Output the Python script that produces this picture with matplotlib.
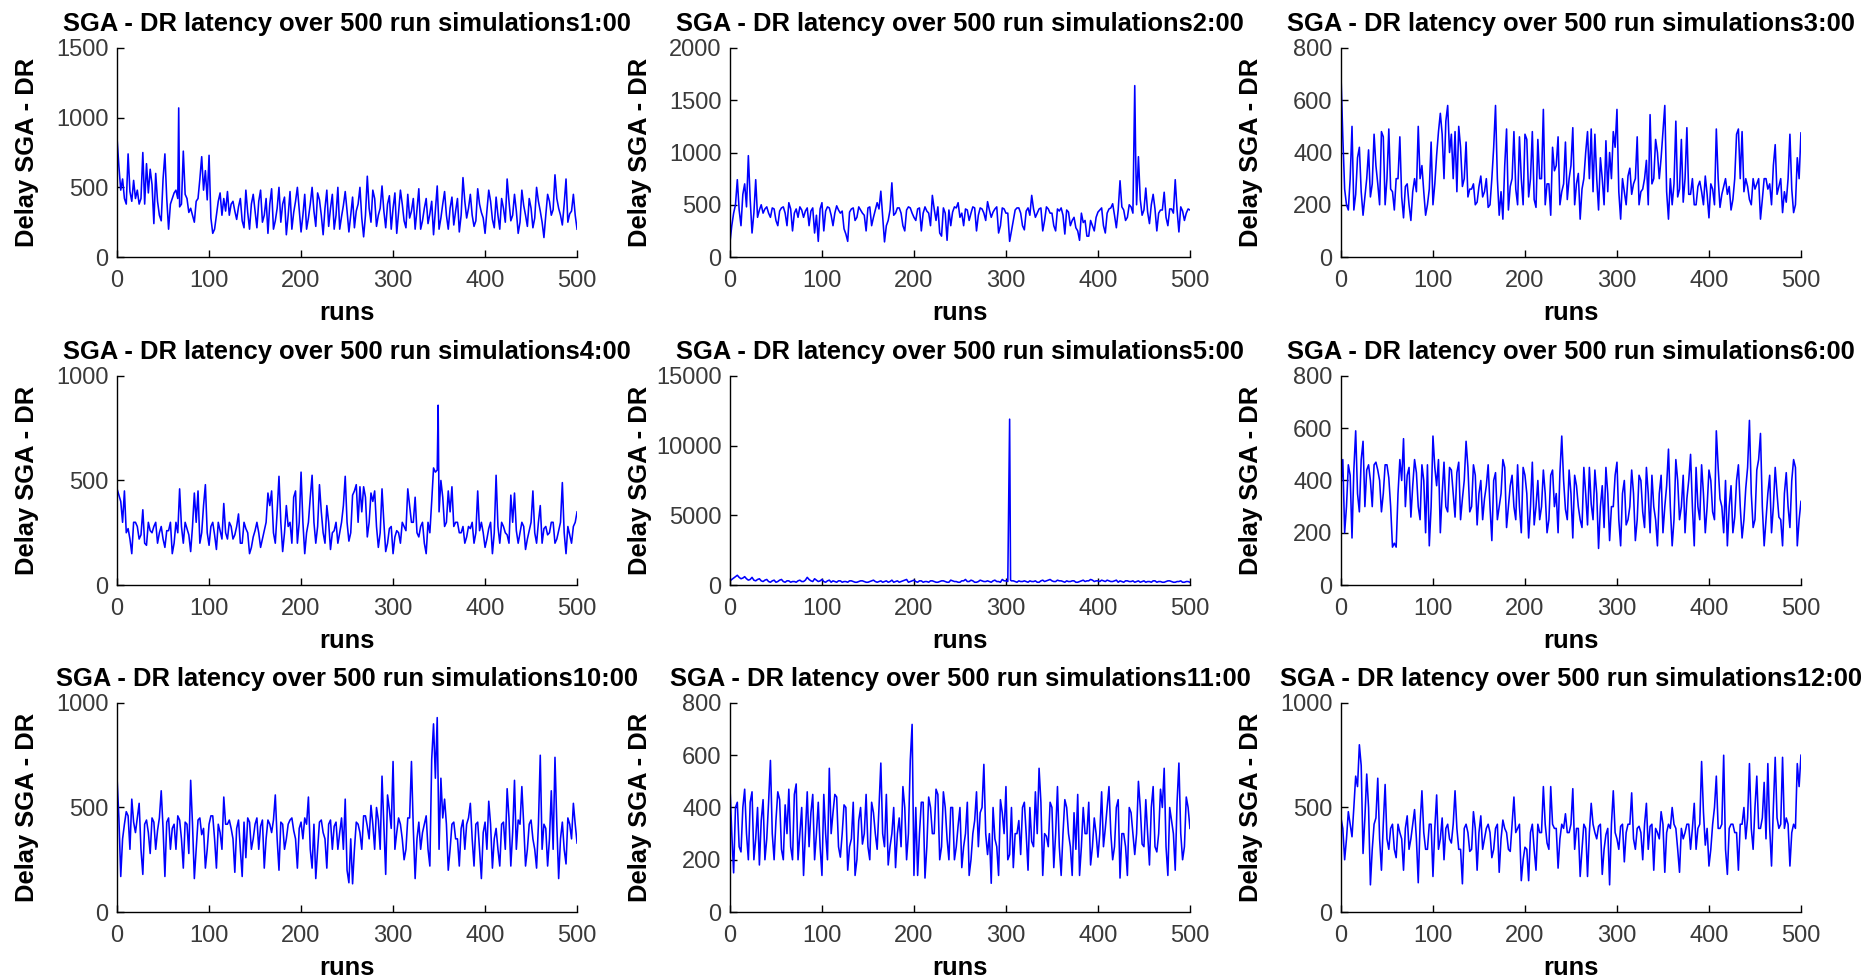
import matplotlib
matplotlib.use('Agg')
import matplotlib.pyplot as plt

plt.rcParams['font.family'] = ['Liberation Sans', 'DejaVu Sans']

# runs at which the values were read: every 4th run, plus the runs in between
runs = list(range(0, 501, 4))
runs_mid = list(range(2, 500, 4))

hours = ['1:00', '2:00', '3:00', '4:00', '5:00', '6:00', '10:00', '11:00', '12:00']
y_max = [1500, 2000, 800, 1000, 15000, 800, 1000, 800, 1000]
y_step = [500, 500, 200, 500, 5000, 200, 500, 200, 500]

delay_1h = [850, 480, 420, 740, 400, 420, 380, 750, 670, 630, 240, 400, 260, 740, 200, 420, 480, 360, 760, 420,
            350, 250, 420, 720, 620, 730, 170, 300, 460, 420, 470, 380, 330, 360, 260, 480, 200, 450, 210, 480,
            300, 170, 490, 260, 500, 380, 160, 470, 320, 500, 180, 450, 280, 500, 220, 410, 160, 480, 350, 200,
            500, 290, 470, 180, 430, 330, 500, 145, 580, 250, 420, 300, 510, 210, 440, 350, 170, 480, 260, 450,
            330, 200, 490, 260, 420, 310, 160, 510, 280, 470, 200, 430, 330, 180, 570, 280, 450, 220, 490, 320,
            170, 480, 270, 430, 200, 350, 560, 260, 450, 170, 480, 300, 420, 210, 500, 330, 140, 450, 300, 590,
            350, 230, 560, 310, 450, 200]
delay_1h_mid = [650, 560, 380, 470, 550, 480, 420, 380, 460, 520,
                600, 300, 560, 420, 380, 460, 420, 380, 450, 320,
                300, 400, 560, 480, 410, 280, 200, 400, 300, 330,
                300, 400, 270, 420, 210, 320, 380, 330, 400, 250,
                420, 380, 200, 350, 250, 430, 300, 200, 400, 340,
                300, 200, 380, 330, 460, 300, 350, 220, 450, 300,
                200, 370, 330, 300, 210, 380, 280, 300, 350, 480,
                220, 350, 330, 380, 200, 460, 320, 380, 210, 280,
                420, 340, 200, 350, 240, 400, 330, 200, 380, 300,
                350, 230, 420, 300, 400, 350, 300, 260, 380, 280,
                330, 400, 210, 300, 420, 250, 400, 300, 330, 250,
                370, 220, 350, 280, 400, 250, 300, 400, 340, 420,
                300, 380, 250, 330, 300]
spikes_1h = {67: 1070}

delay_2h = [140, 420, 740, 300, 700, 970, 230, 740, 450, 420, 480, 380, 460, 300, 470, 420, 520, 250, 460, 480,
            380, 470, 440, 230, 150, 520, 440, 470, 300, 490, 420, 270, 150, 460, 350, 480, 420, 250, 480, 380,
            520, 630, 145, 350, 710, 420, 470, 300, 450, 470, 380, 460, 250, 480, 420, 590, 350, 230, 470, 160,
            300, 480, 520, 420, 460, 350, 480, 250, 470, 420, 530, 380, 460, 230, 470, 420, 150, 350, 470, 420,
            260, 470, 590, 380, 460, 250, 480, 420, 300, 460, 470, 220, 430, 350, 280, 160, 330, 200, 350, 250,
            430, 470, 230, 460, 510, 280, 730, 450, 380, 480, 400, 960, 400, 660, 320, 600, 250, 450, 620, 300,
            460, 740, 240, 440, 420, 450]
delay_2h_mid = [300, 500, 450, 600, 480, 550, 420, 380, 500, 460,
                420, 470, 350, 440, 480, 300, 460, 420, 380, 450,
                440, 300, 470, 400, 460, 250, 480, 400, 420, 450,
                440, 220, 430, 470, 380, 450, 400, 470, 300, 450,
                460, 380, 300, 450, 400, 470, 420, 250, 480, 420,
                350, 470, 420, 440, 300, 460, 480, 200, 420, 450,
                430, 470, 380, 300, 450, 420, 470, 400, 460, 350,
                450, 430, 480, 300, 460, 420, 250, 450, 470, 300,
                440, 400, 460, 420, 470, 350, 460, 420, 250, 440,
                400, 450, 300, 380, 250, 420, 350, 200, 300, 380,
                450, 300, 420, 470, 400, 450, 480, 350, 500, 420,
                500, 550, 450, 430, 500, 460, 420, 450, 380, 460,
                420, 450, 480, 350, 460]
spikes_2h = {440: 1640, 441: 960}

delay_3h = [700, 260, 180, 500, 240, 420, 160, 300, 230, 470, 280, 480, 200, 490, 250, 300, 460, 150, 280, 140,
            300, 500, 350, 160, 260, 200, 390, 550, 300, 580, 470, 480, 500, 270, 440, 260, 280, 210, 310, 250,
            190, 300, 580, 160, 145, 490, 270, 480, 200, 300, 470, 230, 480, 190, 300, 565, 280, 160, 330, 460,
            250, 440, 300, 495, 280, 145, 300, 480, 490, 470, 180, 300, 445, 400, 480, 565, 145, 250, 310, 240,
            300, 200, 260, 370, 545, 300, 400, 380, 580, 145, 200, 520, 260, 210, 495, 240, 200, 270, 250, 310,
            150, 260, 490, 190, 270, 240, 180, 300, 490, 480, 300, 220, 300, 280, 145, 300, 260, 200, 430, 270,
            170, 210, 470, 170, 380, 475]
delay_3h_mid = [460, 200, 300, 180, 380, 250, 230, 410, 280, 350,
                200, 460, 300, 260, 180, 300, 230, 270, 200, 250,
                250, 300, 250, 200, 440, 280, 480, 470, 520, 400,
                300, 250, 420, 300, 230, 260, 200, 270, 230, 300,
                200, 420, 300, 250, 350, 180, 300, 260, 460, 200,
                450, 300, 220, 450, 300, 200, 280, 420, 350, 200,
                280, 220, 350, 200, 320, 260, 400, 300, 250, 300,
                380, 200, 250, 300, 420, 250, 300, 200, 340, 280,
                460, 250, 300, 200, 280, 450, 300, 480, 250, 300,
                280, 230, 450, 300, 240, 300, 200, 290, 200, 240,
                280, 200, 300, 240, 300, 270, 220, 470, 300, 250,
                270, 200, 260, 300, 220, 300, 280, 350, 240, 300,
                250, 300, 260, 200, 300]
spikes_3h = {}

delay_4h = [460, 400, 450, 270, 150, 300, 220, 360, 190, 260, 280, 200, 280, 180, 260, 150, 300, 460, 200, 270,
            160, 440, 450, 250, 480, 190, 300, 170, 260, 390, 220, 280, 240, 340, 200, 270, 150, 230, 300, 180,
            260, 440, 450, 200, 520, 160, 380, 300, 420, 200, 540, 150, 300, 525, 200, 480, 250, 380, 170, 260,
            200, 300, 520, 210, 430, 480, 470, 470, 230, 440, 450, 180, 460, 160, 270, 150, 260, 200, 280, 460,
            300, 420, 230, 300, 150, 250, 560, 550, 500, 280, 450, 470, 300, 250, 280, 230, 270, 200, 450, 300,
            180, 270, 150, 525, 200, 280, 240, 430, 440, 200, 300, 170, 260, 450, 200, 380, 270, 240, 300, 200,
            260, 490, 150, 240, 280, 350]
delay_4h_mid = [430, 300, 250, 220, 300, 280, 240, 200, 300, 250,
                300, 250, 220, 260, 300, 200, 250, 280, 300, 240,
                280, 300, 200, 380, 250, 280, 240, 300, 220, 250,
                300, 220, 280, 200, 300, 250, 180, 260, 250, 220,
                300, 380, 250, 350, 300, 250, 280, 200, 450, 300,
                300, 250, 420, 300, 280, 350, 200, 300, 250, 300,
                250, 380, 300, 250, 450, 300, 350, 420, 300, 400,
                280, 250, 300, 200, 280, 230, 250, 300, 260, 380,
                300, 250, 280, 200, 300, 400, 540, 350, 420, 300,
                350, 280, 300, 250, 200, 280, 300, 250, 260, 250,
                220, 300, 250, 280, 300, 250, 200, 300, 260, 250,
                280, 220, 300, 250, 300, 200, 280, 250, 300, 220,
                300, 250, 280, 200, 300]
spikes_4h = {349: 860}

delay_5h = [300, 500, 700, 450, 600, 350, 550, 300, 450, 250, 400, 200, 350, 250, 400, 200, 300, 250, 200, 350,
            250, 550, 300, 450, 250, 400, 200, 350, 300, 200, 300, 250, 200, 300, 200, 250, 300, 200, 250, 350,
            200, 300, 250, 200, 350, 250, 200, 300, 400, 250, 350, 200, 300, 250, 200, 300, 200, 250, 300, 200,
            350, 250, 200, 300, 400, 250, 300, 200, 350, 250, 300, 200, 350, 250, 400, 300, 350, 300, 200, 250,
            300, 200, 250, 300, 200, 350, 300, 400, 250, 350, 300, 200, 250, 300, 200, 250, 350, 300, 400, 250,
            300, 350, 250, 300, 250, 350, 300, 200, 300, 250, 200, 300, 250, 200, 250, 300, 200, 250, 200, 300,
            250, 200, 250, 200, 250, 200]
delay_5h_mid = [400, 600, 550, 500, 450, 400, 350, 400, 300, 350,
                250, 300, 200, 350, 250, 300, 200, 250, 300, 250,
                350, 400, 250, 350, 300, 250, 300, 200, 250, 300,
                200, 250, 300, 250, 200, 300, 250, 200, 300, 250,
                250, 200, 300, 250, 200, 300, 250, 350, 200, 300,
                250, 300, 200, 250, 300, 250, 200, 300, 250, 200,
                300, 250, 200, 300, 250, 350, 200, 250, 300, 250,
                250, 300, 250, 200, 300, 250, 300, 250, 300, 250,
                250, 300, 250, 200, 300, 250, 350, 300, 250, 300,
                250, 300, 250, 300, 200, 300, 250, 300, 350, 300,
                250, 300, 350, 250, 300, 200, 250, 300, 250, 300,
                250, 200, 300, 250, 200, 300, 250, 200, 250, 300,
                200, 250, 300, 200, 250]
spikes_5h = {303: 6000, 304: 11900, 305: 350}

delay_6h = [380, 200, 460, 180, 590, 280, 550, 440, 400, 460, 440, 280, 460, 410, 145, 145, 480, 560, 420, 260,
            480, 300, 460, 200, 150, 570, 380, 200, 470, 280, 440, 260, 470, 330, 550, 280, 460, 230, 400, 330,
            460, 170, 430, 300, 480, 220, 380, 300, 460, 200, 420, 180, 470, 300, 250, 440, 200, 420, 300, 200,
            570, 290, 440, 180, 380, 250, 450, 230, 310, 440, 140, 380, 450, 170, 300, 470, 150, 400, 250, 440,
            170, 420, 280, 450, 200, 300, 150, 420, 300, 520, 150, 480, 250, 420, 330, 500, 150, 300, 460, 200,
            440, 280, 590, 330, 200, 150, 380, 260, 460, 180, 370, 630, 220, 440, 580, 150, 350, 200, 450, 260,
            150, 430, 220, 480, 150, 320]
delay_6h_mid = [480, 300, 420, 440, 350, 480, 300, 460, 300, 470,
                400, 350, 460, 300, 160, 350, 400, 300, 450, 380,
                430, 250, 400, 460, 300, 450, 480, 350, 300, 450,
                350, 430, 250, 400, 450, 300, 420, 350, 250, 380,
                300, 400, 250, 350, 450, 300, 420, 250, 300, 450,
                350, 300, 230, 400, 300, 350, 250, 440, 350, 430,
                400, 250, 350, 420, 300, 220, 350, 450, 250, 350,
                300, 220, 350, 300, 420, 250, 350, 230, 300, 350,
                250, 400, 220, 350, 420, 250, 350, 200, 380, 300,
                250, 400, 300, 200, 400, 300, 450, 250, 350, 300,
                400, 250, 450, 300, 400, 300, 200, 400, 300, 250,
                450, 350, 250, 480, 300, 250, 420, 300, 350, 250,
                350, 300, 400, 450, 250]
spikes_6h = {}

delay_10h = [640, 170, 420, 460, 540, 380, 520, 180, 440, 280, 430, 390, 580, 170, 450, 400, 300, 440, 210, 420,
             630, 160, 440, 370, 210, 420, 460, 210, 380, 550, 420, 400, 190, 440, 170, 260, 430, 350, 450, 410,
             210, 440, 380, 560, 200, 420, 350, 440, 390, 210, 430, 450, 550, 210, 160, 430, 380, 210, 440, 410,
             300, 450, 540, 140, 135, 430, 380, 460, 410, 510, 300, 440, 650, 180, 490, 720, 380, 420, 250, 450,
             720, 160, 430, 380, 460, 220, 900, 930, 640, 540, 200, 420, 350, 220, 440, 420, 520, 220, 430, 160,
             430, 530, 210, 400, 220, 430, 590, 220, 630, 440, 600, 220, 420, 350, 210, 750, 420, 220, 580, 740,
             160, 430, 230, 420, 520, 330]
delay_10h_mid = [450, 350, 480, 300, 430, 450, 300, 420, 380, 450,
                 300, 450, 400, 430, 300, 420, 460, 350, 430, 280,
                 420, 300, 450, 400, 300, 460, 350, 420, 300, 420,
                 440, 350, 400, 300, 430, 450, 300, 420, 300, 440,
                 350, 420, 440, 350, 430, 300, 420, 450, 350, 400,
                 350, 420, 300, 420, 300, 440, 350, 420, 300, 430,
                 380, 300, 200, 350, 300, 420, 300, 460, 350, 420,
                 500, 300, 420, 560, 400, 300, 450, 350, 300, 450,
                 400, 350, 300, 420, 300, 730, 640, 300, 450, 420,
                 300, 430, 350, 400, 300, 450, 350, 420, 300, 380,
                 300, 420, 350, 300, 420, 300, 450, 380, 300, 420,
                 420, 300, 440, 300, 420, 300, 400, 350, 300, 420,
                 350, 300, 450, 350, 420]
spikes_10h = {}

delay_11h = [480, 150, 420, 230, 470, 200, 460, 280, 180, 430, 280, 580, 200, 460, 240, 410, 470, 200, 490, 300,
             140, 460, 380, 200, 420, 140, 300, 550, 380, 440, 210, 410, 160, 280, 140, 350, 260, 450, 200, 380,
             240, 570, 250, 180, 300, 170, 360, 480, 200, 580, 140, 140, 420, 130, 440, 300, 470, 200, 460, 280,
             400, 200, 330, 170, 300, 140, 300, 460, 380, 565, 220, 110, 280, 140, 380, 480, 220, 170, 300, 220,
             420, 160, 270, 460, 550, 140, 290, 420, 170, 480, 140, 430, 300, 140, 240, 140, 400, 300, 180, 360,
             210, 460, 320, 480, 200, 400, 130, 300, 140, 380, 220, 500, 260, 430, 180, 480, 230, 470, 550, 140,
             350, 160, 570, 200, 440, 320]
delay_11h_mid = [300, 400, 250, 400, 300, 420, 200, 400, 350, 200,
                 420, 300, 350, 430, 200, 300, 250, 450, 200, 400,
                 300, 250, 450, 300, 250, 450, 200, 300, 450, 250,
                 300, 400, 250, 420, 200, 400, 300, 250, 420, 300,
                 400, 300, 450, 250, 400, 300, 250, 400, 300, 580,
                 400, 300, 420, 250, 400, 300, 450, 250, 400, 200,
                 400, 250, 400, 250, 420, 200, 350, 250, 400, 300,
                 300, 400, 250, 430, 300, 200, 400, 300, 350, 400,
                 300, 400, 250, 300, 420, 300, 250, 400, 300, 250,
                 300, 400, 250, 380, 450, 250, 300, 420, 250, 300,
                 300, 250, 400, 300, 250, 430, 300, 250, 400, 300,
                 300, 400, 250, 300, 400, 250, 300, 400, 250, 400,
                 300, 420, 300, 250, 400]
spikes_11h = {198: 718}

delay_12h = [450, 250, 480, 360, 650, 800, 280, 660, 130, 420, 640, 200, 610, 300, 420, 260, 380, 200, 460, 350,
             490, 140, 580, 300, 420, 170, 560, 350, 250, 420, 330, 580, 300, 135, 420, 290, 480, 200, 460, 350,
             420, 260, 400, 190, 440, 380, 290, 550, 400, 150, 310, 150, 420, 200, 380, 600, 330, 600, 400, 210,
             420, 470, 380, 590, 400, 170, 420, 170, 520, 380, 410, 180, 370, 130, 580, 350, 410, 240, 420, 570,
             300, 410, 250, 520, 410, 200, 380, 480, 190, 420, 500, 400, 190, 350, 420, 300, 520, 400, 720, 320,
             220, 420, 650, 400, 750, 180, 420, 380, 200, 420, 350, 710, 300, 650, 400, 620, 710, 220, 740, 400,
             740, 450, 220, 420, 710, 750]
delay_12h_mid = [400, 350, 420, 500, 600, 700, 450, 500, 300, 450,
                 350, 420, 350, 400, 300, 420, 350, 400, 300, 420,
                 350, 420, 380, 300, 420, 400, 300, 450, 400, 350,
                 420, 400, 300, 400, 380, 300, 400, 380, 300, 400,
                 380, 300, 420, 350, 400, 300, 420, 380, 420, 250,
                 300, 380, 300, 420, 380, 420, 300, 420, 400, 350,
                 400, 380, 420, 300, 400, 300, 400, 380, 420, 350,
                 420, 300, 400, 420, 380, 300, 420, 380, 420, 350,
                 400, 380, 420, 300, 420, 400, 350, 420, 380, 400,
                 420, 300, 400, 380, 420, 400, 300, 420, 480, 400,
                 300, 500, 400, 420, 300, 400, 420, 380, 420, 500,
                 450, 400, 500, 400, 450, 350, 400, 500, 450, 420,
                 400, 420, 380, 400, 600]
spikes_12h = {}

panels = [(delay_1h, delay_1h_mid, spikes_1h), (delay_2h, delay_2h_mid, spikes_2h),
          (delay_3h, delay_3h_mid, spikes_3h), (delay_4h, delay_4h_mid, spikes_4h),
          (delay_5h, delay_5h_mid, spikes_5h), (delay_6h, delay_6h_mid, spikes_6h),
          (delay_10h, delay_10h_mid, spikes_10h), (delay_11h, delay_11h_mid, spikes_11h),
          (delay_12h, delay_12h_mid, spikes_12h)]


def merge(base, mid, spikes):
    pts = dict(zip(runs, base))
    pts.update(zip(runs_mid, mid))
    pts.update(spikes)
    xs = sorted(pts)
    return xs, [pts[x] for x in xs]


fig = plt.figure(figsize=(18.76, 9.77), dpi=100)

lefts = [0.0624, 0.3891, 0.7148]
bottoms = [0.7369, 0.4012, 0.0665]
w, h = 0.2452, 0.214

for i, (base, mid, spikes) in enumerate(panels):
    row, col = divmod(i, 3)
    ax = fig.add_axes([lefts[col], bottoms[row], w, h])
    xs, ys = merge(base, mid, spikes)
    ax.plot(xs, ys, color='#0000ff', lw=1.15)
    ax.set_xlim(0, 500)
    ax.set_ylim(0, y_max[i])
    ax.set_xticks(range(0, 501, 100))
    ax.set_yticks(range(0, y_max[i] + 1, y_step[i]))
    for s in ['top', 'right']:
        ax.spines[s].set_visible(False)
    for s in ['left', 'bottom']:
        ax.spines[s].set_linewidth(1.0)
    ax.tick_params(direction='in', length=5, width=1, labelsize=17, labelcolor='#3a3a3a')
    ax.tick_params(axis='x', pad=9)
    ax.tick_params(axis='y', pad=6)
    ax.set_title('SGA - DR latency over 500 run simulations' + hours[i],
                 fontsize=18.4, fontweight='bold', pad=12)
    ax.set_xlabel('runs', fontsize=18.4, fontweight='bold', va='center')
    ax.set_ylabel('Delay SGA - DR', fontsize=18.4, fontweight='bold')
    ax.xaxis.set_label_coords(0.5, -0.27)
    ax.yaxis.set_label_coords(-0.17, 0.5)

fig.savefig('out.png', dpi=100)
